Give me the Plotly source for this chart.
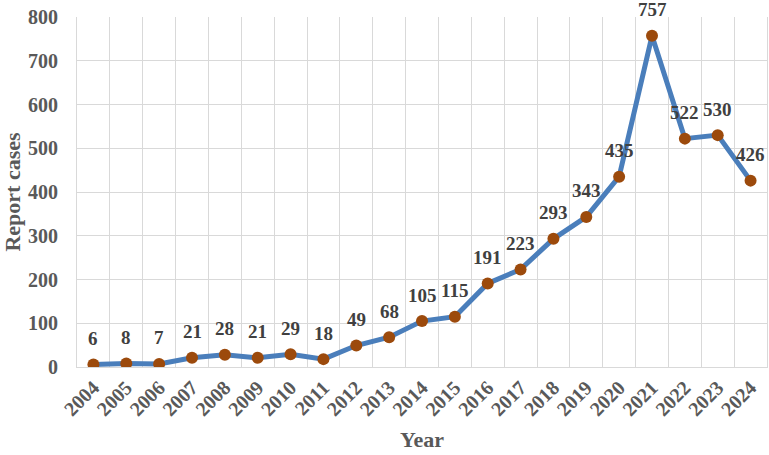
import plotly.graph_objects as go

years = [str(y) for y in range(2004, 2025)]
cases = [6, 8, 7, 21, 28, 21, 29, 18, 49, 68, 105, 115, 191, 223, 293, 343, 435, 757, 522, 530, 426]

FONT = "Liberation Serif"
LINE_COLOR = "#4A7EBB"
MARKER_COLOR = "#9C4A0C"
GRID = "#D9D9D9"

fig = go.Figure()
fig.add_trace(go.Scatter(
    x=years, y=cases, mode="lines+markers",
    line=dict(color=LINE_COLOR, width=5),
    marker=dict(color=MARKER_COLOR, size=12),
    hoverinfo="skip", showlegend=False,
))

for i, y in enumerate(cases):
    fig.add_annotation(x=i, y=y, xref="x", yref="y", text=f"<b>{y}</b>", showarrow=False,
                       yshift=26, yanchor="middle", xanchor="center",
                       font=dict(family=FONT, size=19, color="#404040"))

fig.update_layout(
    width=769, height=455,
    margin=dict(l=77, r=2, t=17, b=88),
    paper_bgcolor="white", plot_bgcolor="white",
    font=dict(family=FONT, color="#595959"),
)
fig.update_xaxes(
    type="category", tickson="boundaries", range=[-0.5, 20.5],
    showgrid=True, gridcolor=GRID, gridwidth=1,
    showline=True, linecolor=GRID, linewidth=1,
    ticks="", tickangle=-45,
    tickfont=dict(family=FONT, size=20, color="#595959", weight="bold"),
    title=dict(text="<b>Year</b>", font=dict(family=FONT, size=22, color="#595959"), standoff=12),
)
fig.update_yaxes(
    range=[0, 800], dtick=100, showgrid=True, gridcolor=GRID, gridwidth=1,
    showline=True, linecolor=GRID, mirror=True, zeroline=False,
    ticks="outside", ticklen=14, tickcolor="rgba(0,0,0,0)",
    tickfont=dict(family=FONT, size=20, color="#595959", weight="bold"),
    title=dict(text="<b>Report cases</b>", font=dict(family=FONT, size=22, color="#595959"), standoff=2),
)

fig.write_html("out.html")
